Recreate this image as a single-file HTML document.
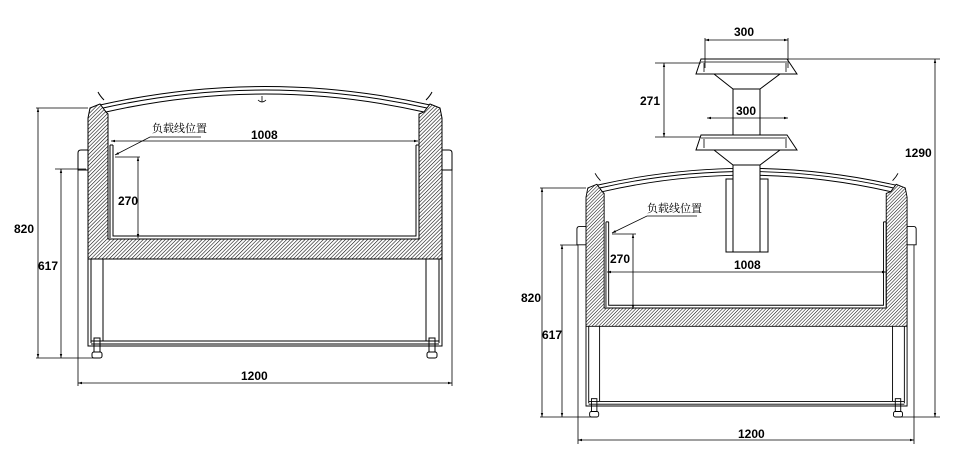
<!DOCTYPE html>
<html><head><meta charset="utf-8"><style>
html,body{margin:0;padding:0;background:#fff;}
svg{display:block;}
text{font-family:"Liberation Sans",Arial,sans-serif;font-size:12px;font-weight:bold;fill:#000;}
.cn{font-family:"Liberation Serif","Noto Serif CJK SC",serif;font-size:11px;font-weight:normal;}
</style></head><body>
<svg width="980" height="471" viewBox="0 0 980 471" xmlns="http://www.w3.org/2000/svg">
<defs>
<pattern id="h" width="2.6" height="2.6" patternUnits="userSpaceOnUse" patternTransform="rotate(45)">
<rect width="2.6" height="2.6" fill="#fff"/><line x1="0" y1="0" x2="0" y2="2.6" stroke="#000" stroke-width="1.1"/>
</pattern>
<marker id="a" viewBox="0 0 10 10" refX="10" refY="5" markerWidth="7" markerHeight="5" orient="auto-start-reverse"><path d="M0,2 L10,5 L0,8z" fill="#000"/></marker>
<g id="cab" fill="none" stroke="#000" stroke-width="1">
  <path d="M100,105 Q265,68 430,105"/>
  <path d="M103,108 Q265,72 427,108"/>
  <path d="M106,112 Q265,76 424,112"/>
  <path d="M100,105 L106,112 M430,105 L424,112"/>
  <path d="M104,100 Q100,96 98,92 M426,100 Q430,96 432,92"/>
  <path d="M88,118 L90,108 L100,104 L106,112 L108,114 L108,239 L419,239 L419,114 L424,112 L430,104 L440,108 L442,118 L442,259 L88,259 Z" fill="url(#h)"/>
  <path d="M110,145 L110,238 M113,145 L113,236 L416,236 L416,145 M419,145 L419,238 M110,145 L113,145 M416,145 L419,145"/>
  <path d="M88,259 L88,346 L442,346 L442,259 M91,259 L91,343 M439,259 L439,343 M103,259 L103,341 M426,259 L426,341"/>
  <path d="M91,341 L439,341 M91,344 L439,344"/>
  <path d="M88,150 L81,150 Q78,150 78,153 L78,170 L88,170 M442,150 L449,150 Q452,150 452,153 L452,170 L442,170"/>
  <rect x="94" y="338" width="6" height="14"/><rect x="92" y="352" width="10" height="6" rx="2"/>
  <rect x="429" y="338" width="6" height="14"/><rect x="427" y="352" width="10" height="6" rx="2"/>
</g>
</defs>

<use href="#cab"/>
<path d="M258,100 Q262,104 266,100 M262,96 L262,102" fill="none" stroke="#000" stroke-width="0.8"/>
<g stroke="#000" stroke-width="0.8" fill="none">
  <path d="M36,108 L88,108 M36,358 L100,358 M55,169 L86,169 M78,170 L78,386 M452,170 L452,386 M115,157 L140,157"/>
  <line x1="38" y1="108" x2="38" y2="358" marker-start="url(#a)" marker-end="url(#a)"/>
  <line x1="61" y1="169" x2="61" y2="358" marker-start="url(#a)" marker-end="url(#a)"/>
  <line x1="78" y1="383" x2="452" y2="383" marker-start="url(#a)" marker-end="url(#a)"/>
  <line x1="111" y1="141" x2="418" y2="141" marker-start="url(#a)" marker-end="url(#a)"/>
  <line x1="138" y1="157" x2="138" y2="238" marker-start="url(#a)" marker-end="url(#a)"/>
  <path d="M201,137 L150,137 L115,155" marker-end="url(#a)"/>
</g>
<text x="14" y="233">820</text>
<text x="38" y="270">617</text>
<text x="241" y="380">1200</text>
<text x="251" y="139">1008</text>
<text x="118" y="205">270</text>
<text x="152" y="132" class="cn">负载线位置</text>

<use href="#cab" transform="translate(586,188) scale(0.907,0.916) translate(-88,-108)"/>
<g fill="#fff" stroke="#000" stroke-width="1">
  <rect x="726" y="179" width="42" height="73"/>
  <rect x="733" y="165" width="27" height="87"/>
  <path d="M714,150 L733,165 L760,165 L780,150Z"/>
  <path d="M701,135 L787,135 L797,150 L696,150Z"/>
  <rect x="733" y="89" width="27" height="46"/>
  <path d="M714,74 L733,89 L760,89 L780,74Z"/>
  <path d="M701,59 L787,59 L797,74 L696,74Z"/>
</g>
<path d="M704,63 L704,72 M786,63 L786,72 M704,139 L704,148 M786,139 L786,148 M701,62 L787,62 M701,138 L787,138" stroke="#000" stroke-width="0.8" fill="none"/>
<g stroke="#000" stroke-width="0.8" fill="none">
  <path d="M705,38 L705,68 M788,38 L788,68 M655,63 L701,63 M655,137 L701,137 M788,59 L940,59 M900,417 L940,417 M540,188 L586,188 M540,417 L596,417 M560,245 L578,245 M578,245 L578,444 M914,245 L914,444 M612,234 L636,234"/>
  <line x1="705" y1="40" x2="788" y2="40" marker-start="url(#a)" marker-end="url(#a)"/>
  <line x1="707" y1="118" x2="788" y2="118" marker-start="url(#a)" marker-end="url(#a)"/>
  <line x1="664" y1="63" x2="664" y2="137" marker-start="url(#a)" marker-end="url(#a)"/>
  <line x1="935" y1="59" x2="935" y2="417" marker-start="url(#a)" marker-end="url(#a)"/>
  <line x1="542" y1="188" x2="542" y2="417" marker-start="url(#a)" marker-end="url(#a)"/>
  <line x1="562" y1="245" x2="562" y2="417" marker-start="url(#a)" marker-end="url(#a)"/>
  <line x1="578" y1="440" x2="914" y2="440" marker-start="url(#a)" marker-end="url(#a)"/>
  <line x1="607" y1="272" x2="886" y2="272" marker-start="url(#a)" marker-end="url(#a)"/>
  <line x1="633" y1="234" x2="633" y2="309" marker-start="url(#a)" marker-end="url(#a)"/>
  <path d="M697,216 L647,216 L612,233" marker-end="url(#a)"/>
</g>
<text x="734" y="36">300</text>
<text x="736" y="115">300</text>
<text x="640" y="105">271</text>
<text x="905" y="157">1290</text>
<text x="521" y="302">820</text>
<text x="542" y="339">617</text>
<text x="738" y="438">1200</text>
<text x="734" y="269">1008</text>
<text x="610" y="263">270</text>
<text x="647" y="212" class="cn">负载线位置</text>
</svg>
</body></html>
